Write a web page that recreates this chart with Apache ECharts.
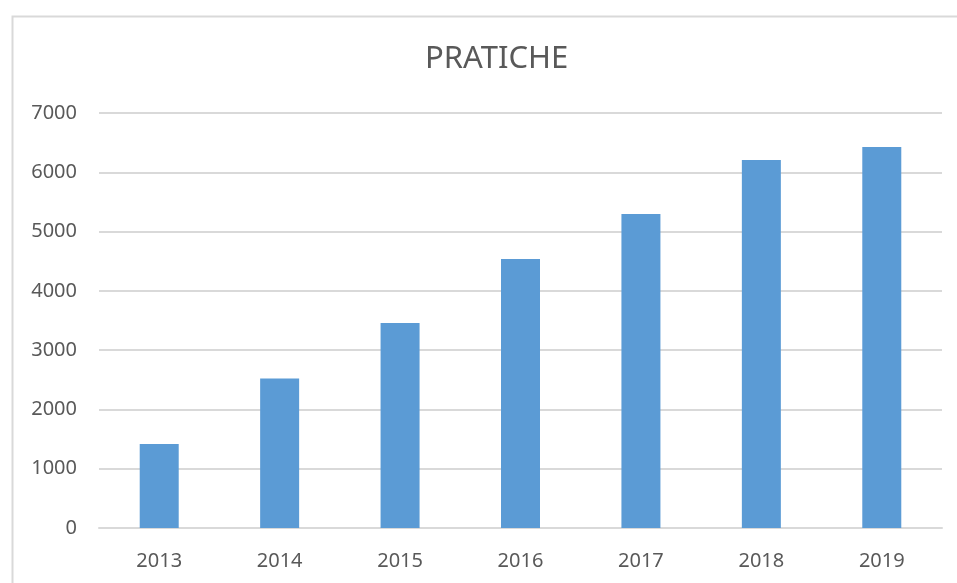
<!DOCTYPE html>
<html>
<head>
<meta charset="utf-8">
<script src="https://cdn.jsdelivr.net/npm/echarts@6/dist/echarts.min.js"></script>
<style>
html,body{margin:0;padding:0;background:#fff;}
#chart{width:957px;height:583px;}
</style>
</head>
<body>
<div id="chart"></div>
<script>
const titleText = 'PRATICHE';
const categories = ['2013', '2014', '2015', '2016', '2017', '2018', '2019'];
const values = [1417, 2523, 3458, 4537, 5296, 6207, 6426];
const yMin = 0, yMax = 7000, yInterval = 1000;

const chart = echarts.init(document.getElementById('chart'), null, {renderer: 'canvas'});
const font = '"Noto Sans", "Open Sans", sans-serif';
chart.setOption({
  animation: false,
  backgroundColor: '#ffffff',
  title: {
    text: titleText,
    left: 420,
    top: 39,
    textStyle: {fontFamily: font, fontSize: 31, fontWeight: 'normal', color: '#595959'}
  },
  graphic: [{
    type: 'rect',
    left: 10, top: 14,
    shape: {width: 1000, height: 620},
    style: {fill: 'none', stroke: '#d9d9d9', lineWidth: 2},
    silent: true, z: -1
  }],
  grid: {left: 99, right: 15, top: 113, bottom: 55, containLabel: false},
  xAxis: {
    type: 'category',
    data: categories,
    axisLine: {show: true, lineStyle: {color: '#d9d9d9', width: 2}},
    axisTick: {show: false},
    axisLabel: {fontFamily: font, fontSize: 20, color: '#595959', margin: 23}
  },
  yAxis: {
    type: 'value',
    min: yMin, max: yMax, interval: yInterval,
    axisLine: {show: false},
    axisTick: {show: false},
    splitLine: {lineStyle: {color: '#d9d9d9', width: 2}},
    axisLabel: {fontFamily: font, fontSize: 20, color: '#595959', margin: 22,
      formatter: function (v) { return String(v); }}
  },
  series: [{
    type: 'bar',
    data: values,
    barWidth: 39,
    itemStyle: {color: '#5b9bd5'}
  }]
});
</script>
</body>
</html>
